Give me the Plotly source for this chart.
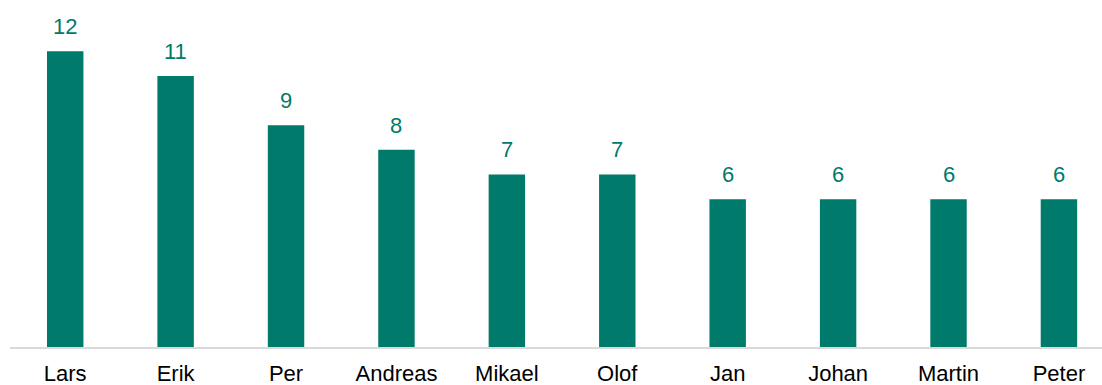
import plotly.graph_objects as go

names = ["Lars", "Erik", "Per", "Andreas", "Mikael", "Olof", "Jan", "Johan", "Martin", "Peter"]
counts = [12, 11, 9, 8, 7, 7, 6, 6, 6, 6]

TEAL = "#007A6A"
FONT = "Liberation Sans, Arial, sans-serif"

fig = go.Figure()
fig.add_trace(go.Bar(
    x=names, y=counts,
    marker=dict(color=TEAL, line=dict(width=0)),
    width=0.33,
    hoverinfo="skip",
))

for n, v in zip(names, counts):
    fig.add_annotation(
        x=n, y=v, text=str(v), showarrow=False,
        yanchor="bottom", yshift=10,
        font=dict(family=FONT, size=22, color=TEAL),
    )

fig.update_layout(
    width=1102, height=385,
    margin=dict(l=10, r=0, t=0, b=38),
    paper_bgcolor="white", plot_bgcolor="white",
    showlegend=False,
    font=dict(family=FONT, size=22, color="#000000"),
    xaxis=dict(
        type="category", range=[-0.5, 9.39],
        showline=True, linecolor="#D9D9D9", linewidth=1.5,
        showgrid=False, ticks="outside", ticklen=6, tickcolor="rgba(0,0,0,0)",
        tickfont=dict(size=22, color="#000000"),
    ),
    yaxis=dict(range=[0, 14.08], visible=False, showgrid=False),
)

# page body has an 8px default margin; drop it so the chart sits at 0,0
fig.write_html(
    "out.html",
    config={"displayModeBar": False},
    post_script="document.body.style.margin='0';",
)
